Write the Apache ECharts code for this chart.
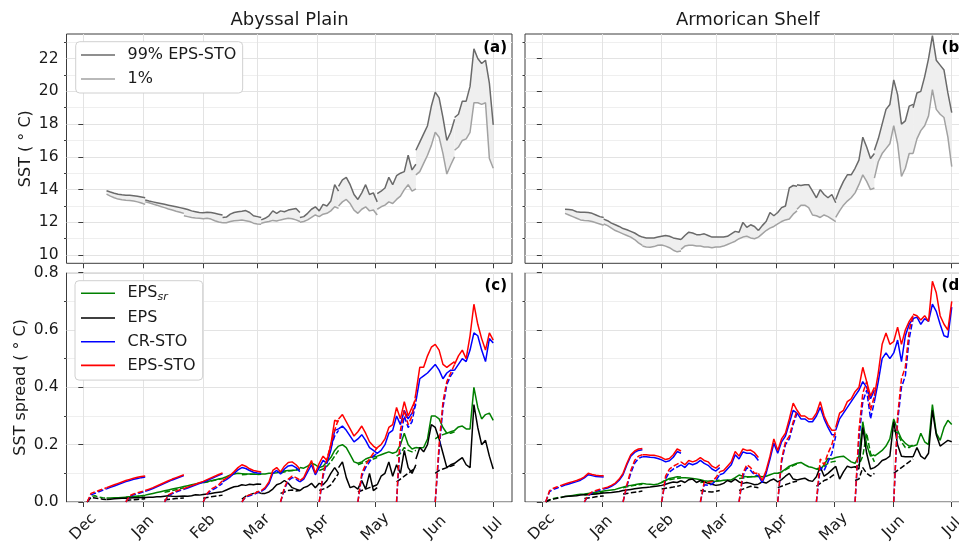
<!DOCTYPE html>
<html>
<head>
<meta charset="utf-8">
<script src="https://cdn.jsdelivr.net/npm/echarts@6/dist/echarts.min.js"></script>
<style>
  html, body { margin: 0; padding: 0; background: #ffffff; }
  #chart { width: 959px; height: 542px; }
</style>
</head>
<body>
<div id="chart"></div>
<script>
// Forecast runs: start day (days since 1 Dec), one every 20 days, 30 days long.
// The first 10 days of each run overlap the previous run and are drawn dashed.
const runStarts = [2, 22, 42, 62, 82, 102, 122, 142, 162, 182];
const step = 2;          // days between stored values
const solidOffset = 10;  // solid part starts 10 days after the run start

const monthTicks = [0, 31, 62, 90, 121, 151, 182, 212];
const monthLabels = ['Dec', 'Jan', 'Feb', 'Mar', 'Apr', 'May', 'Jun', 'Jul'];
const sstTicks = [10, 12, 14, 16, 18, 20, 22];
const sstMinor = [11, 13, 15, 17, 19, 21, 23];
const spreadTicks = [0, 0.2, 0.4, 0.6, 0.8];
const spreadMinor = [0.1, 0.3, 0.5, 0.7];

// ---- SST percentiles of EPS-STO (solid part of each run, 11 values) ----
const abyssUpper = [
  [13.93, 13.85, 13.78, 13.72, 13.68, 13.66, 13.65, 13.63, 13.6, 13.55, 13.5],
  [13.36, 13.3, 13.25, 13.2, 13.15, 13.1, 13.05, 13.0, 12.95, 12.9, 12.85],
  [12.85, 12.78, 12.7, 12.65, 12.6, 12.58, 12.62, 12.6, 12.55, 12.5, 12.45],
  [12.3, 12.32, 12.5, 12.6, 12.65, 12.68, 12.72, 12.6, 12.4, 12.35, 12.3],
  [12.15, 12.25, 12.4, 12.7, 12.55, 12.7, 12.65, 12.75, 12.8, 12.85, 12.6],
  [12.3, 12.35, 12.55, 12.8, 12.95, 12.7, 13.1, 13.0, 13.3, 14.3, 13.9],
  [14.2, 14.6, 14.75, 14.3, 13.7, 13.4, 13.8, 14.3, 13.7, 13.8, 13.25],
  [13.75, 13.9, 14.1, 14.75, 14.3, 14.85, 15.0, 15.1, 16.1, 15.2, 15.55],
  [16.4, 16.9, 17.4, 17.9, 19.1, 19.95, 19.6, 18.4, 17.0, 17.5, 18.3],
  [18.4, 18.6, 19.4, 19.4, 20.3, 22.6, 22.0, 21.7, 21.9, 20.5, 17.95]
];
const abyssLower = [
  [13.72, 13.6, 13.5, 13.42, 13.38, 13.35, 13.33, 13.3, 13.25, 13.18, 13.1],
  [13.25, 13.2, 13.12, 13.05, 12.97, 12.9, 12.82, 12.75, 12.68, 12.62, 12.55],
  [12.4, 12.35, 12.3, 12.27, 12.25, 12.22, 12.25, 12.2, 12.1, 12.02, 11.98],
  [11.98, 11.98, 12.05, 12.1, 12.12, 12.14, 12.1, 12.05, 11.95, 11.9, 11.88],
  [11.95, 12.0, 12.05, 12.12, 12.08, 12.15, 12.2, 12.25, 12.22, 12.15, 12.05],
  [12.0, 12.05, 12.15, 12.3, 12.45, 12.35, 12.5, 12.55, 12.7, 12.95, 12.85],
  [13.0, 13.25, 13.4, 13.15, 12.75, 12.55, 12.8, 12.95, 12.7, 12.75, 12.45],
  [12.8, 12.95, 13.05, 13.25, 13.15, 13.4, 13.6, 14.0, 14.3, 13.9, 14.05],
  [14.9, 15.1, 15.6, 16.1, 16.7, 17.5, 17.2, 16.2, 14.95, 15.5, 16.0],
  [16.4, 16.6, 17.0, 17.1, 17.5, 19.3, 19.3, 19.2, 19.3, 15.9, 15.3]
];
const shelfUpper = [
  [12.8, 12.78, 12.75, 12.65, 12.62, 12.62, 12.6, 12.55, 12.45, 12.35, 12.3],
  [12.2, 12.1, 11.95, 11.85, 11.75, 11.62, 11.55, 11.45, 11.35, 11.2, 11.1],
  [11.1, 11.05, 11.05, 11.05, 11.1, 11.15, 11.2, 11.15, 11.05, 11.0, 10.95],
  [10.95, 11.2, 11.4, 11.35, 11.25, 11.25, 11.3, 11.2, 11.1, 11.1, 11.1],
  [11.1, 11.1, 11.15, 11.3, 11.45, 11.4, 12.0, 11.7, 11.85, 11.75, 11.5],
  [11.5, 11.8, 12.05, 12.6, 12.4, 12.6, 12.9, 13.0, 14.1, 14.25, 14.2],
  [14.3, 14.25, 14.3, 14.3, 13.9, 13.5, 14.0, 13.7, 13.5, 13.7, 13.2],
  [13.4, 14.0, 14.5, 14.9, 14.9, 15.3, 15.8, 17.2, 16.6, 15.9, 16.2],
  [16.4, 17.1, 18.0, 18.9, 19.2, 20.7, 19.8, 18.0, 18.2, 19.1, 19.2],
  [19.0, 19.9, 20.0, 20.9, 22.0, 23.4, 21.9, 21.6, 21.3, 19.9, 18.7]
];
const shelfLower = [
  [12.55, 12.45, 12.35, 12.25, 12.15, 12.12, 12.1, 12.05, 11.98, 11.9, 11.82],
  [11.9, 11.8, 11.65, 11.5, 11.4, 11.3, 11.2, 11.1, 10.95, 10.75, 10.6],
  [10.55, 10.5, 10.48, 10.52, 10.6, 10.62, 10.55, 10.45, 10.3, 10.2, 10.25],
  [10.35, 10.55, 10.6, 10.6, 10.55, 10.55, 10.5, 10.5, 10.45, 10.5, 10.5],
  [10.5, 10.55, 10.65, 10.75, 10.85, 11.0, 11.1, 11.15, 11.05, 11.0, 11.1],
  [11.1, 11.3, 11.5, 11.65, 11.75, 11.9, 12.05, 12.15, 12.2, 12.5, 12.7],
  [12.8, 13.05, 13.05, 12.9, 12.45, 12.4, 12.3, 12.45, 12.35, 12.2, 12.05],
  [12.3, 12.7, 13.05, 13.3, 13.5, 13.8, 14.3, 14.9, 14.5, 14.0, 14.1],
  [14.7, 15.7, 16.2, 16.5, 16.8, 17.9, 16.8, 14.8, 15.3, 16.2, 16.2],
  [16.2, 17.1, 17.6, 17.9, 18.5, 20.1, 18.9, 18.6, 18.4, 17.2, 15.4]
];

// ---- SST spread, Abyssal Plain: dashed part (6 values) and solid part (11 values) per run ----
const abyssSrDash = [
  [0.0, 0.02, 0.022, 0.017, 0.015, 0.014], [0.017, 0.018, 0.019, 0.02, 0.021, 0.022],
  [0.034, 0.037, 0.04, 0.043, 0.046, 0.05], [0.067, 0.07, 0.073, 0.076, 0.079, 0.082],
  [0.095, 0.096, 0.097, 0.097, 0.096, 0.097], [0.1, 0.105, 0.108, 0.11, 0.112, 0.115],
  [0.11, 0.115, 0.125, 0.14, 0.16, 0.18], [0.13, 0.135, 0.14, 0.145, 0.15, 0.155],
  [0.16, 0.17, 0.19, 0.18, 0.175, 0.18], [0.22, 0.23, 0.235, 0.24, 0.24, 0.245]
];
const abyssSrSolid = [
  [0.014, 0.014, 0.015, 0.015, 0.016, 0.017, 0.018, 0.019, 0.02, 0.022, 0.024],
  [0.024, 0.027, 0.03, 0.033, 0.036, 0.039, 0.042, 0.045, 0.048, 0.051, 0.054],
  [0.054, 0.057, 0.06, 0.063, 0.066, 0.069, 0.071, 0.074, 0.077, 0.08, 0.083],
  [0.083, 0.088, 0.094, 0.098, 0.1, 0.099, 0.098, 0.098, 0.097, 0.097, 0.098],
  [0.098, 0.098, 0.1, 0.1, 0.102, 0.105, 0.108, 0.11, 0.11, 0.112, 0.115],
  [0.12, 0.118, 0.125, 0.135, 0.13, 0.12, 0.125, 0.14, 0.155, 0.18, 0.195],
  [0.195, 0.2, 0.19, 0.165, 0.14, 0.135, 0.14, 0.15, 0.155, 0.158, 0.16],
  [0.16, 0.165, 0.17, 0.175, 0.17, 0.175, 0.2, 0.24, 0.2, 0.185, 0.19],
  [0.19, 0.188, 0.19, 0.22, 0.3, 0.3, 0.29, 0.26, 0.24, 0.245, 0.25],
  [0.25, 0.262, 0.265, 0.255, 0.255, 0.4, 0.33, 0.29, 0.305, 0.31, 0.285]
];
const abyssEpsDash = [
  [0.0, 0.016, 0.014, 0.012, 0.01, 0.009], [0.005, 0.007, 0.008, 0.009, 0.01, 0.011],
  [0.008, 0.009, 0.01, 0.012, 0.013, 0.014], [0.013, 0.016, 0.018, 0.02, 0.022, 0.024],
  [0.01, 0.02, 0.025, 0.03, 0.035, 0.03], [0.03, 0.035, 0.04, 0.042, 0.038, 0.04],
  [0.04, 0.045, 0.05, 0.06, 0.08, 0.1], [0.035, 0.04, 0.045, 0.05, 0.055, 0.06],
  [0.07, 0.08, 0.09, 0.1, 0.11, 0.12], [0.1, 0.11, 0.115, 0.12, 0.125, 0.13]
];
const abyssEpsSolid = [
  [0.009, 0.01, 0.011, 0.012, 0.013, 0.013, 0.014, 0.015, 0.015, 0.016, 0.016],
  [0.016, 0.017, 0.017, 0.018, 0.018, 0.02, 0.022, 0.02, 0.019, 0.02, 0.021],
  [0.021, 0.02, 0.022, 0.025, 0.024, 0.026, 0.028, 0.03, 0.032, 0.034, 0.036],
  [0.036, 0.042, 0.048, 0.053, 0.055, 0.06, 0.058, 0.062, 0.06, 0.063, 0.062],
  [0.03, 0.03, 0.035, 0.045, 0.06, 0.065, 0.075, 0.065, 0.05, 0.045, 0.04],
  [0.04, 0.05, 0.055, 0.065, 0.05, 0.065, 0.06, 0.075, 0.1, 0.12, 0.1],
  [0.12, 0.14, 0.085, 0.05, 0.055, 0.045, 0.075, 0.045, 0.1, 0.04, 0.05],
  [0.06, 0.09, 0.1, 0.14, 0.09, 0.13, 0.1, 0.18, 0.12, 0.1, 0.13],
  [0.15, 0.19, 0.175, 0.2, 0.27, 0.26, 0.22, 0.17, 0.12, 0.13, 0.135],
  [0.135, 0.145, 0.155, 0.13, 0.12, 0.34, 0.26, 0.2, 0.215, 0.16, 0.115]
];
const abyssCrDash = [
  [0, 0.025, 0.03, 0.036, 0.041, 0.046], [0, 0.019, 0.025, 0.029, 0.033, 0.037],
  [0, 0.022, 0.029, 0.035, 0.04, 0.044], [0, 0.027, 0.04, 0.047, 0.055, 0.065],
  [0, 0.018, 0.022, 0.026, 0.032, 0.037], [0, 0.045, 0.075, 0.085, 0.08, 0.07],
  [0, 0.09, 0.14, 0.19, 0.23, 0.25], [0, 0.09, 0.12, 0.14, 0.16, 0.17],
  [0, 0.22, 0.3, 0.26, 0.28, 0.35], [0, 0.18, 0.33, 0.41, 0.44, 0.46]
];
const abyssCrSolid = [
  [0.046, 0.051, 0.056, 0.061, 0.066, 0.071, 0.075, 0.079, 0.082, 0.085, 0.087],
  [0.037, 0.042, 0.047, 0.053, 0.059, 0.065, 0.071, 0.077, 0.082, 0.087, 0.092],
  [0.044, 0.049, 0.054, 0.059, 0.064, 0.069, 0.075, 0.081, 0.087, 0.093, 0.098],
  [0.07, 0.078, 0.088, 0.1, 0.112, 0.12, 0.117, 0.11, 0.104, 0.101, 0.1],
  [0.037, 0.046, 0.064, 0.1, 0.11, 0.098, 0.115, 0.126, 0.128, 0.12, 0.106],
  [0.07, 0.08, 0.105, 0.13, 0.095, 0.12, 0.145, 0.135, 0.18, 0.25, 0.255],
  [0.255, 0.265, 0.25, 0.23, 0.21, 0.22, 0.235, 0.215, 0.19, 0.18, 0.17],
  [0.17, 0.18, 0.2, 0.24, 0.25, 0.3, 0.27, 0.32, 0.29, 0.31, 0.34],
  [0.35, 0.43, 0.44, 0.45, 0.465, 0.48, 0.46, 0.43, 0.45, 0.46, 0.46],
  [0.46, 0.48, 0.5, 0.49, 0.53, 0.59, 0.58, 0.53, 0.49, 0.57, 0.555]
];
const abyssStoDash = [
  [0, 0.03, 0.035, 0.04, 0.045, 0.05], [0, 0.022, 0.028, 0.032, 0.036, 0.04],
  [0, 0.025, 0.032, 0.038, 0.043, 0.047], [0, 0.03, 0.045, 0.052, 0.06, 0.075],
  [0, 0.02, 0.025, 0.028, 0.035, 0.04], [0, 0.05, 0.08, 0.09, 0.085, 0.077],
  [0, 0.1, 0.15, 0.2, 0.25, 0.29], [0, 0.1, 0.13, 0.15, 0.17, 0.19],
  [0, 0.25, 0.32, 0.27, 0.3, 0.38], [0, 0.2, 0.35, 0.42, 0.45, 0.48]
];
const abyssStoSolid = [
  [0.05, 0.055, 0.06, 0.065, 0.07, 0.075, 0.079, 0.083, 0.086, 0.089, 0.091],
  [0.04, 0.045, 0.05, 0.056, 0.062, 0.068, 0.074, 0.08, 0.085, 0.09, 0.095],
  [0.047, 0.052, 0.057, 0.062, 0.067, 0.072, 0.078, 0.084, 0.09, 0.096, 0.101],
  [0.075, 0.083, 0.093, 0.106, 0.12, 0.13, 0.125, 0.116, 0.11, 0.107, 0.105],
  [0.04, 0.05, 0.07, 0.11, 0.12, 0.105, 0.125, 0.138, 0.14, 0.13, 0.115],
  [0.075, 0.085, 0.115, 0.145, 0.1, 0.135, 0.16, 0.145, 0.2, 0.285, 0.28],
  [0.29, 0.305, 0.28, 0.255, 0.23, 0.245, 0.265, 0.24, 0.21, 0.195, 0.185],
  [0.19, 0.2, 0.22, 0.26, 0.27, 0.33, 0.29, 0.35, 0.3, 0.33, 0.36],
  [0.38, 0.47, 0.47, 0.51, 0.54, 0.55, 0.53, 0.48, 0.47, 0.48, 0.49],
  [0.48, 0.51, 0.53, 0.5, 0.58, 0.69, 0.62, 0.57, 0.53, 0.59, 0.565]
];

// ---- SST spread, Armorican Shelf ----
const shelfSrDash = [
  [0.0, 0.008, 0.012, 0.015, 0.017, 0.019], [0.024, 0.026, 0.028, 0.03, 0.032, 0.034],
  [0.05, 0.053, 0.056, 0.058, 0.06, 0.062], [0.07, 0.075, 0.078, 0.08, 0.082, 0.084],
  [0.068, 0.07, 0.072, 0.074, 0.075, 0.076], [0.082, 0.084, 0.086, 0.088, 0.09, 0.092],
  [0.1, 0.105, 0.112, 0.12, 0.127, 0.133], [0.115, 0.12, 0.125, 0.135, 0.14, 0.142],
  [0.12, 0.13, 0.16, 0.24, 0.17, 0.14], [0.25, 0.24, 0.21, 0.19, 0.19, 0.2]
];
const shelfSrSolid = [
  [0.019, 0.021, 0.023, 0.025, 0.027, 0.028, 0.03, 0.032, 0.034, 0.036, 0.038],
  [0.038, 0.04, 0.042, 0.044, 0.048, 0.052, 0.056, 0.058, 0.06, 0.063, 0.065],
  [0.065, 0.063, 0.062, 0.06, 0.063, 0.068, 0.075, 0.082, 0.085, 0.088, 0.087],
  [0.085, 0.085, 0.084, 0.082, 0.08, 0.078, 0.074, 0.072, 0.071, 0.072, 0.073],
  [0.073, 0.076, 0.077, 0.077, 0.085, 0.094, 0.09, 0.088, 0.088, 0.088, 0.09],
  [0.09, 0.088, 0.09, 0.095, 0.1, 0.1, 0.105, 0.115, 0.125, 0.13, 0.135],
  [0.135, 0.138, 0.13, 0.123, 0.12, 0.115, 0.112, 0.13, 0.152, 0.15, 0.155],
  [0.155, 0.158, 0.16, 0.15, 0.14, 0.135, 0.16, 0.28, 0.2, 0.16, 0.165],
  [0.16, 0.17, 0.18, 0.195, 0.22, 0.29, 0.25, 0.22, 0.205, 0.195, 0.195],
  [0.195, 0.2, 0.24, 0.21, 0.2, 0.34, 0.24, 0.215, 0.26, 0.285, 0.27]
];
const shelfEpsDash = [
  [0, 0.007, 0.01, 0.013, 0.016, 0.019], [0.012, 0.014, 0.016, 0.018, 0.02, 0.021],
  [0.028, 0.03, 0.032, 0.034, 0.036, 0.038], [0.045, 0.048, 0.05, 0.052, 0.055, 0.058],
  [0.04, 0.038, 0.036, 0.035, 0.037, 0.04], [0.04, 0.045, 0.05, 0.055, 0.052, 0.05],
  [0.05, 0.055, 0.06, 0.065, 0.07, 0.072], [0.055, 0.065, 0.075, 0.08, 0.09, 0.1],
  [0.075, 0.08, 0.12, 0.1, 0.09, 0.1], [0.1, 0.11, 0.12, 0.13, 0.14, 0.15]
];
const shelfEpsSolid = [
  [0.019, 0.02, 0.021, 0.022, 0.024, 0.025, 0.026, 0.027, 0.028, 0.03, 0.031],
  [0.031, 0.032, 0.033, 0.035, 0.037, 0.04, 0.042, 0.044, 0.046, 0.048, 0.05],
  [0.05, 0.051, 0.052, 0.054, 0.056, 0.058, 0.062, 0.066, 0.07, 0.068, 0.074],
  [0.074, 0.068, 0.078, 0.08, 0.068, 0.075, 0.07, 0.065, 0.062, 0.058, 0.06],
  [0.06, 0.065, 0.075, 0.07, 0.08, 0.07, 0.065, 0.068, 0.065, 0.06, 0.062],
  [0.062, 0.07, 0.066, 0.075, 0.08, 0.07, 0.078, 0.09, 0.1, 0.08, 0.077],
  [0.077, 0.08, 0.083, 0.075, 0.072, 0.088, 0.123, 0.09, 0.1, 0.112, 0.125],
  [0.125, 0.08, 0.105, 0.125, 0.12, 0.123, 0.115, 0.26, 0.17, 0.115, 0.12],
  [0.12, 0.13, 0.145, 0.15, 0.16, 0.28, 0.2, 0.16, 0.158, 0.158, 0.158],
  [0.158, 0.19, 0.16, 0.15, 0.17, 0.32, 0.235, 0.195, 0.205, 0.215, 0.21]
];
const shelfCrDash = [
  [0, 0.036, 0.044, 0.049, 0.054, 0.059], [0, 0.022, 0.032, 0.037, 0.042, 0.045],
  [0, 0.055, 0.1, 0.135, 0.152, 0.158], [0, 0.08, 0.105, 0.115, 0.122, 0.13],
  [0, 0.06, 0.058, 0.062, 0.075, 0.095], [0, 0.09, 0.12, 0.11, 0.095, 0.092],
  [0, 0.14, 0.2, 0.22, 0.27, 0.31], [0, 0.12, 0.11, 0.14, 0.17, 0.23],
  [0, 0.22, 0.35, 0.39, 0.29, 0.35], [0, 0.28, 0.4, 0.44, 0.57, 0.64]
];
const shelfCrSolid = [
  [0.059, 0.063, 0.067, 0.071, 0.076, 0.084, 0.095, 0.092, 0.089, 0.088, 0.087],
  [0.045, 0.049, 0.055, 0.063, 0.076, 0.095, 0.13, 0.16, 0.173, 0.18, 0.182],
  [0.158, 0.158, 0.156, 0.155, 0.152, 0.147, 0.14, 0.144, 0.156, 0.176, 0.17],
  [0.13, 0.12, 0.135, 0.13, 0.135, 0.145, 0.135, 0.128, 0.115, 0.108, 0.12],
  [0.095, 0.1, 0.115, 0.13, 0.165, 0.15, 0.175, 0.17, 0.17, 0.162, 0.145],
  [0.092, 0.068, 0.1, 0.15, 0.205, 0.17, 0.21, 0.23, 0.275, 0.32, 0.31],
  [0.31, 0.29, 0.29, 0.28, 0.28, 0.3, 0.33, 0.29, 0.26, 0.235, 0.235],
  [0.25, 0.29, 0.31, 0.33, 0.35, 0.37, 0.39, 0.42, 0.4, 0.36, 0.39],
  [0.35, 0.42, 0.5, 0.52, 0.5, 0.52, 0.565, 0.49, 0.58, 0.62, 0.64],
  [0.64, 0.645, 0.62, 0.64, 0.63, 0.69, 0.665, 0.62, 0.58, 0.575, 0.68]
];
const shelfStoDash = [
  [0, 0.04, 0.048, 0.053, 0.058, 0.063], [0, 0.025, 0.035, 0.04, 0.045, 0.048],
  [0, 0.06, 0.11, 0.145, 0.16, 0.165], [0, 0.09, 0.115, 0.125, 0.132, 0.14],
  [0, 0.07, 0.068, 0.072, 0.085, 0.106], [0, 0.1, 0.13, 0.12, 0.1, 0.1],
  [0, 0.15, 0.21, 0.23, 0.28, 0.32], [0, 0.15, 0.13, 0.17, 0.2, 0.25],
  [0, 0.25, 0.38, 0.42, 0.32, 0.37], [0, 0.3, 0.43, 0.47, 0.6, 0.65]
];
const shelfStoSolid = [
  [0.063, 0.067, 0.071, 0.075, 0.08, 0.088, 0.1, 0.096, 0.093, 0.092, 0.092],
  [0.048, 0.052, 0.058, 0.066, 0.08, 0.1, 0.135, 0.165, 0.178, 0.185, 0.187],
  [0.165, 0.165, 0.163, 0.163, 0.16, 0.155, 0.148, 0.152, 0.165, 0.185, 0.178],
  [0.14, 0.13, 0.145, 0.14, 0.145, 0.155, 0.145, 0.14, 0.125, 0.118, 0.13],
  [0.106, 0.11, 0.125, 0.14, 0.176, 0.16, 0.185, 0.18, 0.181, 0.172, 0.155],
  [0.1, 0.075, 0.11, 0.16, 0.22, 0.18, 0.22, 0.24, 0.29, 0.345, 0.32],
  [0.32, 0.3, 0.3, 0.29, 0.29, 0.31, 0.35, 0.3, 0.27, 0.25, 0.25],
  [0.26, 0.31, 0.32, 0.35, 0.36, 0.385, 0.4, 0.47, 0.42, 0.37, 0.4],
  [0.37, 0.45, 0.55, 0.59, 0.55, 0.56, 0.61, 0.55, 0.6, 0.63, 0.65],
  [0.655, 0.65, 0.635, 0.65, 0.63, 0.77, 0.73, 0.65, 0.62, 0.6, 0.7]
];

// ---------------------------------------------------------------------------
const FONT = 'DejaVu Sans';
const TXT = '#1a1a1a';
const GRID_MAJOR = '#e3e3e3';
const GRID_MINOR = '#efefef';

// [day, value] pairs for the solid part of every run, broken between runs
function solidPoints(segs) {
  const pts = [];
  segs.forEach((vals, k) => {
    const d0 = runStarts[k] + solidOffset;
    vals.forEach((v, j) => pts.push([d0 + j * step, v]));
    pts.push([d0 + (vals.length - 1) * step, null]);
  });
  return pts;
}
// [day, value] pairs for the spin-up (dashed) part of every run
function dashPoints(segs) {
  const pts = [];
  segs.forEach((vals, k) => {
    const d0 = runStarts[k];
    vals.forEach((v, j) => pts.push([d0 + j * step, v]));
    pts.push([d0 + (vals.length - 1) * step, null]);
  });
  return pts;
}

function lineSeries(name, grid, data, color, dashed, z) {
  return {
    type: 'line', name: name, xAxisIndex: grid, yAxisIndex: grid * 2,
    data: data, showSymbol: false, symbol: 'none', color: color,
    itemStyle: { color: color },
    lineStyle: { color: color, width: 1.5, type: dashed ? [5.5, 2.4] : 'solid' },
    z: z, silent: true, animation: false, emphasis: { disabled: true }
  };
}

// shaded band between the two percentiles, one polygon per run
function bandSeries(grid, up, lo) {
  return {
    type: 'custom', xAxisIndex: grid, yAxisIndex: grid * 2, silent: true, clip: true, z: 1,
    animation: false,
    data: up.map((v, k) => [runStarts[k] + solidOffset, v[0]]),
    renderItem: function (params, api) {
      const k = params.dataIndex;
      const d0 = runStarts[k] + solidOffset;
      const pts = up[k].map((v, j) => api.coord([d0 + j * step, v]));
      for (let j = lo[k].length - 1; j >= 0; j--) pts.push(api.coord([d0 + j * step, lo[k][j]]));
      return { type: 'polygon', shape: { points: pts }, style: { fill: '#efefef' } };
    }
  };
}

function sstPanel(grid, up, lo) {
  return [
    bandSeries(grid, up, lo),
    lineSeries('99% EPS-STO', grid, solidPoints(up), '#6a6a6a', false, 2),
    lineSeries('1%', grid, solidPoints(lo), '#a2a2a2', false, 2)
  ];
}

function spreadPanel(grid, d) {
  return [
    lineSeries('EPS_sr', grid, solidPoints(d.srSolid), '#008000', false, 2),
    lineSeries('EPS_sr', grid, dashPoints(d.srDash), '#008000', true, 2),
    lineSeries('EPS', grid, solidPoints(d.epsSolid), '#000000', false, 3),
    lineSeries('EPS', grid, dashPoints(d.epsDash), '#000000', true, 3),
    lineSeries('CR-STO', grid, solidPoints(d.crSolid), '#0000ff', false, 4),
    lineSeries('CR-STO', grid, dashPoints(d.crDash), '#0000ff', true, 4),
    lineSeries('EPS-STO', grid, solidPoints(d.stoSolid), '#ff0000', false, 5),
    lineSeries('EPS-STO', grid, dashPoints(d.stoDash), '#ff0000', true, 5)
  ];
}

const grids = [
  { left: 66.5, top: 34, width: 445.5, height: 229.3 },
  { left: 525, top: 34, width: 445.5, height: 229.3 },
  { left: 66.5, top: 272.7, width: 445.5, height: 229.3 },
  { left: 525, top: 272.7, width: 445.5, height: 229.3 }
].map(g => Object.assign(g, {
  show: true, borderColor: '#3c3c3c', borderWidth: 1, backgroundColor: 'transparent',
  containLabel: false, outerBoundsMode: 'none'
}));

const xAxes = [0, 1, 2, 3].map(i => ({
  type: 'value', gridIndex: i, min: -8.7, max: 221.7,
  axisLine: { show: false },
  axisTick: { show: true, customValues: monthTicks, length: 5, lineStyle: { color: '#3c3c3c', width: 1 } },
  axisLabel: {
    show: i >= 2, customValues: monthTicks,
    formatter: v => monthLabels[monthTicks.indexOf(v)] || '',
    rotate: 45, align: 'center', verticalAlign: 'middle', margin: 25,
    fontFamily: FONT, fontSize: 15.5, color: TXT
  },
  splitLine: { show: true, lineStyle: { color: GRID_MAJOR, width: 1 } }
}));

function yPair(grid, min, max, major, minor, showLabels, name, nameGap, fmt) {
  return [
    {
      type: 'value', gridIndex: grid, min: min, max: max, position: 'left',
      axisLine: { show: false },
      axisTick: { show: true, customValues: major, length: 5, lineStyle: { color: '#3c3c3c', width: 1 } },
      axisLabel: { show: showLabels, customValues: major, formatter: fmt, margin: 8,
        fontFamily: FONT, fontSize: 15.5, color: TXT },
      splitLine: { show: true, lineStyle: { color: GRID_MAJOR, width: 1 } },
      name: showLabels ? name : '', nameLocation: 'middle', nameGap: nameGap, nameRotate: 90,
      nameTextStyle: { fontFamily: FONT, fontSize: 16, color: TXT }
    },
    {
      type: 'value', gridIndex: grid, min: min, max: max, position: 'left', offset: 0,
      axisLine: { show: false },
      axisTick: { show: true, customValues: minor, length: 2.5, lineStyle: { color: '#3c3c3c', width: 1 } },
      axisLabel: { show: false, customValues: minor },
      splitLine: { show: true, lineStyle: { color: GRID_MINOR, width: 1 } }
    }
  ];
}
const yAxes = [].concat(
  yPair(0, 9.5, 23.5, sstTicks, sstMinor, true, 'SST ( ° C)', 33, v => String(v)),
  yPair(1, 9.5, 23.5, sstTicks, sstMinor, false, '', 0, v => String(v)),
  yPair(2, 0, 0.8, spreadTicks, spreadMinor, true, 'SST spread ( ° C)', 38, v => v.toFixed(1)),
  yPair(3, 0, 0.8, spreadTicks, spreadMinor, false, '', 0, v => v.toFixed(1))
);

const series = [].concat(
  sstPanel(0, abyssUpper, abyssLower),
  sstPanel(1, shelfUpper, shelfLower),
  spreadPanel(2, { srSolid: abyssSrSolid, srDash: abyssSrDash, epsSolid: abyssEpsSolid, epsDash: abyssEpsDash,
    crSolid: abyssCrSolid, crDash: abyssCrDash, stoSolid: abyssStoSolid, stoDash: abyssStoDash }),
  spreadPanel(3, { srSolid: shelfSrSolid, srDash: shelfSrDash, epsSolid: shelfEpsSolid, epsDash: shelfEpsDash,
    crSolid: shelfCrSolid, crDash: shelfCrDash, stoSolid: shelfStoSolid, stoDash: shelfStoDash })
);

// legend entries drawn as plain line samples
const legendBase = {
  orient: 'vertical', icon: 'rect', itemWidth: 34, itemHeight: 1.6, selectedMode: false,
  backgroundColor: '#ffffff', borderColor: '#d0d0d0', borderWidth: 1, borderRadius: 4, z: 10,
  textStyle: { fontFamily: FONT, fontSize: 16, color: TXT, lineHeight: 16, padding: [0, 0, 0, 7.5],
    rich: { sub: { fontFamily: FONT, fontSize: 11, fontStyle: 'italic', color: TXT, padding: [7, 0, 0, 0] } } }
};

const panelTag = (x, y, t) => ({
  type: 'text', x: x, y: y, z: 20,
  style: { text: t, fill: '#000', font: 'bold 15px "DejaVu Sans"', align: 'right', verticalAlign: 'middle' }
});

const option = {
  animation: false,
  backgroundColor: '#ffffff',
  title: [
    { text: 'Abyssal Plain', left: 289.5, top: 11, textAlign: 'center', padding: 0,
      textStyle: { fontFamily: FONT, fontSize: 18, fontWeight: 'normal', color: TXT } },
    { text: 'Armorican Shelf', left: 747.7, top: 11, textAlign: 'center', padding: 0,
      textStyle: { fontFamily: FONT, fontSize: 18, fontWeight: 'normal', color: TXT } }
  ],
  legend: [
    Object.assign({}, legendBase, { data: ['99% EPS-STO', '1%'], left: 75.7, top: 41.7,
      itemGap: 8, padding: [5.3, 6.3, 6, 5.3] }),
    Object.assign({}, legendBase, { data: ['EPS_sr', 'EPS', 'CR-STO', 'EPS-STO'], left: 75, top: 280.7,
      itemGap: 7.7, padding: [4.6, 7, 6.7, 6],
      formatter: n => n === 'EPS_sr' ? 'EPS{sub|sr}' : n })
  ],
  grid: grids,
  xAxis: xAxes,
  yAxis: yAxes,
  series: series,
  graphic: [
    panelTag(507, 48, '(a)'),
    panelTag(966, 48, '(b)'),
    panelTag(507, 286, '(c)'),
    panelTag(966, 286, '(d)')
  ]
};

const chart = echarts.init(document.getElementById('chart'), null, { renderer: 'canvas' });
chart.setOption(option);
</script>
</body>
</html>
